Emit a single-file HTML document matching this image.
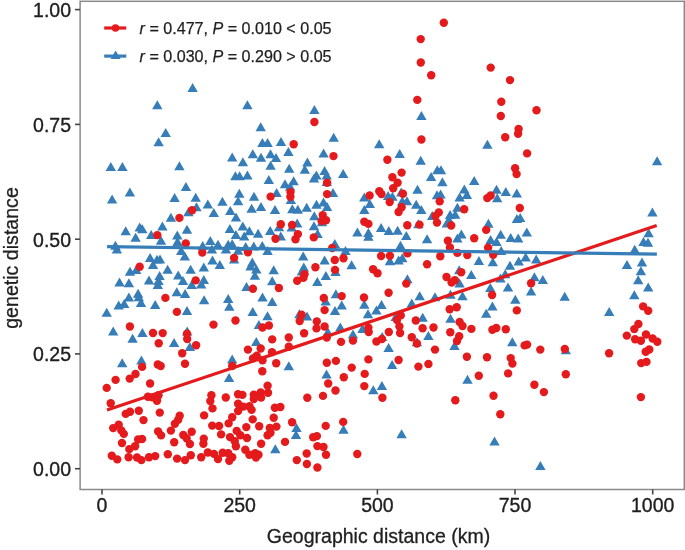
<!DOCTYPE html>
<html><head><meta charset="utf-8"><style>
html,body{margin:0;padding:0;background:#fff;}
svg{display:block;font-family:"Liberation Sans",sans-serif;will-change:transform;}
</style></head><body>
<svg width="685" height="550" viewBox="0 0 685 550">
<rect width="685" height="550" fill="#fff"/>
<path d="M192.6,83.1L197.8,92.1L187.4,92.1ZM157.3,100.3L162.5,109.3L152.1,109.3ZM165.7,128.0L170.9,137.0L160.5,137.0ZM158.6,137.2L163.8,146.2L153.4,146.2ZM110.8,162.0L116.0,171.0L105.6,171.0ZM122.4,162.0L127.6,171.0L117.2,171.0ZM179.4,161.3L184.6,170.3L174.2,170.3ZM247.4,100.3L252.6,109.3L242.2,109.3ZM260.7,122.2L265.9,131.2L255.5,131.2ZM262.4,137.9L267.6,146.9L257.2,146.9ZM267.6,137.9L272.8,146.9L262.4,146.9ZM281.0,137.0L286.2,146.0L275.8,146.0ZM288.4,147.0L293.6,156.0L283.2,156.0ZM232.2,152.5L237.4,161.5L227.0,161.5ZM242.9,157.2L248.1,166.2L237.7,166.2ZM252.8,149.2L258.0,158.2L247.6,158.2ZM261.0,152.8L266.2,161.8L255.8,161.8ZM270.5,149.2L275.7,158.2L265.3,158.2ZM276.0,153.1L281.2,162.1L270.8,162.1ZM270.6,160.8L275.8,169.8L265.4,169.8ZM289.2,163.8L294.4,172.8L284.0,172.8ZM314.4,104.9L319.6,113.9L309.2,113.9ZM333.7,132.7L338.9,141.7L328.5,141.7ZM379.2,139.2L384.4,148.2L374.0,148.2ZM323.6,148.4L328.8,157.4L318.4,157.4ZM307.4,157.5L312.6,166.5L302.2,166.5ZM304.8,164.8L310.0,173.8L299.6,173.8ZM343.2,169.0L348.4,178.0L338.0,178.0ZM421.4,110.9L426.6,119.9L416.2,119.9ZM487.4,139.7L492.6,148.7L482.2,148.7ZM399.7,148.9L404.9,157.9L394.5,157.9ZM420.7,155.7L425.9,164.7L415.5,164.7ZM437.3,165.2L442.5,174.2L432.1,174.2ZM441.0,165.2L446.2,174.2L435.8,174.2ZM657.1,156.2L662.3,165.2L651.9,165.2ZM112.1,194.6L117.3,203.6L106.9,203.6ZM129.9,187.6L135.1,196.6L124.7,196.6ZM185.9,182.0L191.1,191.0L180.7,191.0ZM174.6,193.1L179.8,202.1L169.4,202.1ZM188.4,207.3L193.6,216.3L183.2,216.3ZM170.9,212.8L176.1,221.8L165.7,221.8ZM139.7,222.6L144.9,231.6L134.5,231.6ZM142.3,224.3L147.5,233.3L137.1,233.3ZM125.7,226.2L130.9,235.2L120.5,235.2ZM135.6,232.8L140.8,241.8L130.4,241.8ZM162.4,221.4L167.6,230.4L157.2,230.4ZM151.2,229.9L156.4,238.9L146.0,238.9ZM161.0,235.7L166.2,244.7L155.8,244.7ZM187.0,224.8L192.2,233.8L181.8,233.8ZM115.4,240.8L120.6,249.8L110.2,249.8ZM116.9,244.5L122.1,253.5L111.7,253.5ZM207.8,199.6L213.0,208.6L202.6,208.6ZM222.4,196.7L227.6,205.7L217.2,205.7ZM239.3,188.7L244.5,197.7L234.1,197.7ZM238.1,196.3L243.3,205.3L232.9,205.3ZM213.8,208.0L219.0,217.0L208.6,217.0ZM230.3,206.0L235.5,215.0L225.1,215.0ZM195.7,192.7L200.9,201.7L190.5,201.7ZM196.5,202.2L201.7,211.2L191.3,211.2ZM177.3,230.6L182.5,239.6L172.1,239.6ZM177.5,237.1L182.7,246.1L172.3,246.1ZM181.2,245.9L186.4,254.9L176.0,254.9ZM235.4,171.2L240.6,180.2L230.2,180.2ZM239.6,171.2L244.8,180.2L234.4,180.2ZM247.4,170.5L252.6,179.5L242.2,179.5ZM268.8,175.0L274.0,184.0L263.6,184.0ZM254.0,191.8L259.2,200.8L248.8,200.8ZM285.0,179.2L290.2,188.2L279.8,188.2ZM293.6,176.2L298.8,185.2L288.4,185.2ZM290.1,181.7L295.3,190.7L284.9,190.7ZM276.6,187.9L281.8,196.9L271.4,196.9ZM290.9,194.9L296.1,203.9L285.7,203.9ZM275.0,205.1L280.2,214.1L269.8,214.1ZM292.3,204.3L297.5,213.3L287.1,213.3ZM297.8,204.7L303.0,213.7L292.6,213.7ZM236.0,212.5L241.2,221.5L230.8,221.5ZM229.9,224.1L235.1,233.1L224.7,233.1ZM242.8,221.5L248.0,230.5L237.6,230.5ZM235.9,229.9L241.1,238.9L230.7,238.9ZM244.2,231.4L249.4,240.4L239.0,240.4ZM210.3,236.1L215.5,245.1L205.1,245.1ZM202.7,241.0L207.9,250.0L197.5,250.0ZM218.0,239.8L223.2,248.8L212.8,248.8ZM228.2,239.8L233.4,248.8L223.0,248.8ZM232.2,239.3L237.4,248.3L227.0,248.3ZM211.9,244.5L217.1,253.5L206.7,253.5ZM226.0,244.5L231.2,253.5L220.8,253.5ZM238.1,245.7L243.3,254.7L232.9,254.7ZM234.1,254.5L239.3,263.5L228.9,263.5ZM212.5,255.4L217.7,264.4L207.3,264.4ZM219.8,260.0L225.0,269.0L214.6,269.0ZM203.8,262.5L209.0,271.5L198.6,271.5ZM249.4,226.3L254.6,235.3L244.2,235.3ZM258.1,228.8L263.3,237.8L252.9,237.8ZM270.2,225.9L275.4,234.9L265.0,234.9ZM279.0,222.3L284.2,231.3L273.8,231.3ZM291.7,222.6L296.9,231.6L286.5,231.6ZM280.8,231.4L286.0,240.4L275.6,240.4ZM253.8,241.6L259.0,250.6L248.6,250.6ZM262.3,240.9L267.5,249.9L257.1,249.9ZM267.6,246.0L272.8,255.0L262.4,255.0ZM252.3,257.5L257.5,266.5L247.1,266.5ZM250.5,261.6L255.7,270.6L245.3,270.6ZM256.3,264.5L261.5,273.5L251.1,273.5ZM254.9,270.7L260.1,279.7L249.7,279.7ZM273.7,265.2L278.9,274.2L268.5,274.2ZM272.2,276.2L277.4,285.2L267.0,285.2ZM246.5,282.0L251.7,291.0L241.3,291.0ZM316.4,170.5L321.6,179.5L311.2,179.5ZM314.0,173.5L319.2,182.5L308.8,182.5ZM326.8,177.0L332.0,186.0L321.6,186.0ZM333.0,188.1L338.2,197.1L327.8,197.1ZM323.5,197.6L328.7,206.6L318.3,206.6ZM327.1,202.0L332.3,211.0L321.9,211.0ZM316.5,199.8L321.7,208.8L311.3,208.8ZM306.7,202.7L311.9,211.7L301.5,211.7ZM324.6,166.1L329.8,175.1L319.4,175.1ZM326.7,170.6L331.9,179.6L321.5,179.6ZM364.3,192.5L369.5,201.5L359.1,201.5ZM369.8,199.1L375.0,208.1L364.6,208.1ZM364.3,204.9L369.5,213.9L359.1,213.9ZM388.1,191.0L393.3,200.0L382.9,200.0ZM392.4,191.8L397.6,200.8L387.2,200.8ZM314.3,211.3L319.5,220.3L309.1,220.3ZM322.0,217.2L327.2,226.2L316.8,226.2ZM297.2,218.6L302.4,227.6L292.0,227.6ZM314.0,221.2L319.2,230.2L308.8,230.2ZM317.6,228.9L322.8,237.9L312.4,237.9ZM334.8,239.1L340.0,248.1L329.6,248.1ZM357.4,227.4L362.6,236.4L352.2,236.4ZM368.4,228.1L373.6,237.1L363.2,237.1ZM368.4,231.8L373.6,240.8L363.2,240.8ZM381.1,223.0L386.3,232.0L375.9,232.0ZM388.8,225.9L394.0,234.9L383.6,234.9ZM303.2,251.5L308.4,260.5L298.0,260.5ZM303.8,262.5L309.0,271.5L298.6,271.5ZM301.9,266.5L307.1,275.5L296.7,275.5ZM324.6,255.5L329.8,264.5L319.4,264.5ZM335.5,267.0L340.7,276.0L330.3,276.0ZM325.9,270.9L331.1,279.9L320.7,279.9ZM317.3,277.1L322.5,286.1L312.1,286.1ZM345.5,246.0L350.7,255.0L340.3,255.0ZM351.6,260.3L356.8,269.3L346.4,269.3ZM389.9,256.3L395.1,265.3L384.7,265.3ZM251.6,203.7L256.8,212.7L246.4,212.7ZM261.0,202.1L266.2,211.1L255.8,211.1ZM245.7,241.9L250.9,250.9L240.5,250.9ZM130.0,266.8L135.2,275.8L124.8,275.8ZM136.2,265.0L141.4,274.0L131.0,274.0ZM119.5,277.4L124.7,286.4L114.3,286.4ZM128.9,278.2L134.1,287.2L123.7,287.2ZM150.1,253.0L155.3,262.0L144.9,262.0ZM157.0,254.8L162.2,263.8L151.8,263.8ZM160.0,254.4L165.2,263.4L154.8,263.4ZM153.0,259.9L158.2,268.9L147.8,268.9ZM184.8,251.5L190.0,260.5L179.6,260.5ZM167.6,264.7L172.8,273.7L162.4,273.7ZM190.6,264.7L195.8,273.7L185.4,273.7ZM178.2,270.5L183.4,279.5L173.0,279.5ZM183.0,276.0L188.2,285.0L177.8,285.0ZM191.7,280.0L196.9,289.0L186.5,289.0ZM149.0,275.6L154.2,284.6L143.8,284.6ZM159.6,270.9L164.8,279.9L154.4,279.9ZM157.8,280.0L163.0,289.0L152.6,289.0ZM106.7,307.8L111.9,316.8L101.5,316.8ZM118.7,300.5L123.9,309.5L113.5,309.5ZM124.2,299.0L129.4,308.0L119.0,308.0ZM128.9,292.4L134.1,301.4L123.7,301.4ZM138.1,288.8L143.3,297.8L132.9,297.8ZM141.0,297.9L146.2,306.9L135.8,306.9ZM176.8,287.3L182.0,296.3L171.6,296.3ZM185.1,289.1L190.3,298.1L179.9,298.1ZM155.2,300.1L160.4,309.1L150.0,309.1ZM187.0,305.9L192.2,314.9L181.8,314.9ZM203.8,275.1L209.0,284.1L198.6,284.1ZM201.2,279.5L206.4,288.5L196.0,288.5ZM204.1,295.2L209.3,304.2L198.9,304.2ZM228.2,294.1L233.4,303.1L223.0,303.1ZM229.3,301.8L234.5,310.8L224.1,310.8ZM262.5,292.6L267.7,301.6L257.3,301.6ZM272.2,297.0L277.4,306.0L267.0,306.0ZM252.7,306.9L257.9,315.9L247.5,315.9ZM267.5,311.2L272.7,320.2L262.3,320.2ZM258.9,319.9L264.1,328.9L253.7,328.9ZM256.3,337.0L261.5,346.0L251.1,346.0ZM335.9,289.2L341.1,298.2L330.7,298.2ZM341.7,300.5L346.9,309.5L336.5,309.5ZM325.7,296.5L330.9,305.5L320.5,305.5ZM335.0,306.0L340.2,315.0L329.8,315.0ZM299.4,309.2L304.6,318.2L294.2,318.2ZM307.0,311.5L312.2,320.5L301.8,320.5ZM364.3,299.7L369.5,308.7L359.1,308.7ZM381.5,300.1L386.7,309.1L376.3,309.1ZM376.4,305.6L381.6,314.6L371.2,314.6ZM368.0,309.2L373.2,318.2L362.8,318.2ZM327.8,327.2L333.0,336.2L322.6,336.2ZM340.3,322.5L345.5,331.5L335.1,331.5ZM353.0,329.4L358.2,338.4L347.8,338.4ZM362.5,324.0L367.7,333.0L357.3,333.0ZM382.2,331.9L387.4,340.9L377.0,340.9ZM388.6,342.9L393.8,351.9L383.4,351.9ZM113.2,326.5L118.4,335.5L108.0,335.5ZM132.6,333.7L137.8,342.7L127.4,342.7ZM142.4,327.9L147.6,336.9L137.2,336.9ZM122.2,358.2L127.4,367.2L117.0,367.2ZM141.4,355.6L146.6,364.6L136.2,364.6ZM174.1,338.1L179.3,347.1L168.9,347.1ZM187.2,326.5L192.4,335.5L182.0,335.5ZM189.9,342.1L195.1,351.1L184.7,351.1ZM232.2,354.6L237.4,363.6L227.0,363.6ZM229.1,372.9L234.3,381.9L223.9,381.9ZM288.8,361.2L294.0,370.2L283.6,370.2ZM275.3,444.3L280.5,453.3L270.1,453.3ZM326.5,369.5L331.7,378.5L321.3,378.5ZM343.5,424.7L348.7,433.7L338.3,433.7ZM296.5,423.0L301.7,432.0L291.3,432.0ZM296.0,430.0L301.2,439.0L290.8,439.0ZM373.3,385.2L378.5,394.2L368.1,394.2ZM381.9,380.9L387.1,389.9L376.7,389.9ZM392.1,360.1L397.3,369.1L386.9,369.1ZM401.2,187.4L406.4,196.4L396.0,196.4ZM402.3,196.2L407.5,205.2L397.1,205.2ZM407.0,196.2L412.2,205.2L401.8,205.2ZM417.5,184.8L422.7,193.8L412.3,193.8ZM416.2,199.8L421.4,208.8L411.0,208.8ZM421.3,204.9L426.5,213.9L416.1,213.9ZM431.1,172.1L436.3,181.1L425.9,181.1ZM442.4,177.2L447.6,186.2L437.2,186.2ZM437.0,190.3L442.2,199.3L431.8,199.3ZM440.6,189.6L445.8,198.6L435.4,198.6ZM474.2,176.1L479.4,185.1L469.0,185.1ZM464.3,184.5L469.5,193.5L459.1,193.5ZM459.6,192.5L464.8,201.5L454.4,201.5ZM466.9,190.0L472.1,199.0L461.7,199.0ZM457.4,202.7L462.6,211.7L452.2,211.7ZM418.4,219.2L423.6,228.2L413.2,228.2ZM432.2,211.1L437.4,220.1L427.0,220.1ZM397.6,225.8L402.8,234.8L392.4,234.8ZM406.3,230.9L411.5,239.9L401.1,239.9ZM427.1,234.2L432.3,243.2L421.9,243.2ZM400.5,240.7L405.7,249.7L395.3,249.7ZM450.1,210.1L455.3,219.1L444.9,219.1ZM455.2,209.7L460.4,218.7L450.0,218.7ZM446.8,218.5L452.0,227.5L441.6,227.5ZM488.4,218.8L493.6,227.8L483.2,227.8ZM461.4,229.4L466.6,238.4L456.2,238.4ZM457.4,233.5L462.6,242.5L452.2,242.5ZM490.6,234.9L495.8,243.9L485.4,243.9ZM398.6,255.4L403.8,264.4L393.4,264.4ZM402.3,253.2L407.5,262.2L397.1,262.2ZM407.4,274.3L412.6,283.3L402.2,283.3ZM478.9,256.1L484.1,265.1L473.7,265.1ZM492.8,257.2L498.0,266.2L487.6,266.2ZM459.2,265.2L464.4,274.2L454.0,274.2ZM471.3,270.0L476.5,279.0L466.1,279.0ZM419.7,291.2L424.9,300.2L414.5,300.2ZM411.8,298.5L417.0,307.5L406.6,307.5ZM435.0,292.3L440.2,301.3L429.8,301.3ZM395.7,312.0L400.9,321.0L390.5,321.0ZM422.7,312.7L427.9,321.7L417.5,321.7ZM459.6,278.5L464.8,287.5L454.4,287.5ZM450.5,289.7L455.7,298.7L445.3,298.7ZM462.5,291.2L467.7,300.2L457.3,300.2ZM490.3,283.1L495.5,292.1L485.1,292.1ZM492.4,301.4L497.6,310.4L487.2,310.4ZM486.2,308.7L491.4,317.7L481.0,317.7ZM450.5,313.8L455.7,322.8L445.3,322.8ZM428.4,331.0L433.6,340.0L423.2,340.0ZM416.9,337.2L422.1,346.2L411.7,346.2ZM454.5,340.9L459.7,349.9L449.3,349.9ZM401.6,429.3L406.8,438.3L396.4,438.3ZM467.5,374.8L472.7,383.8L462.3,383.8ZM496.5,184.8L501.7,193.8L491.3,193.8ZM497.2,193.2L502.4,202.2L492.0,202.2ZM505.8,187.0L511.0,196.0L500.6,196.0ZM516.8,188.5L522.0,197.5L511.6,197.5ZM516.9,214.1L522.1,223.1L511.7,223.1ZM520.2,213.0L525.4,222.0L515.0,222.0ZM500.7,229.8L505.9,238.8L495.5,238.8ZM510.7,233.1L515.9,242.1L505.5,242.1ZM518.2,233.4L523.4,242.4L513.0,242.4ZM526.8,227.6L532.0,236.6L521.6,236.6ZM496.5,237.1L501.7,246.1L491.3,246.1ZM501.2,245.9L506.4,254.9L496.0,254.9ZM510.0,260.8L515.2,269.8L504.8,269.8ZM518.7,256.5L523.9,265.5L513.5,265.5ZM525.7,252.5L530.9,261.5L520.5,261.5ZM536.2,254.6L541.4,263.6L531.0,263.6ZM505.2,269.2L510.4,278.2L500.0,278.2ZM500.5,273.6L505.7,282.6L495.3,282.6ZM534.4,272.2L539.6,281.2L529.2,281.2ZM542.8,275.1L548.0,284.1L537.6,284.1ZM508.0,282.4L513.2,291.4L502.8,291.4ZM531.1,286.4L536.3,295.4L525.9,295.4ZM515.3,294.8L520.5,303.8L510.1,303.8ZM512.3,337.2L517.5,346.2L507.1,346.2ZM565.8,345.2L571.0,354.2L560.6,354.2ZM564.7,291.8L569.9,300.8L559.5,300.8ZM609.2,307.1L614.4,316.1L604.0,316.1ZM652.4,207.4L657.6,216.4L647.2,216.4ZM648.6,228.2L653.8,237.2L643.4,237.2ZM643.5,237.0L648.7,246.0L638.3,246.0ZM648.0,237.7L653.2,246.7L642.8,246.7ZM634.7,244.8L639.9,253.8L629.5,253.8ZM627.0,260.0L632.2,269.0L621.8,269.0ZM642.0,257.4L647.2,266.4L636.8,266.4ZM640.9,266.2L646.1,275.2L635.7,275.2ZM638.2,275.2L643.4,284.2L633.0,284.2ZM648.2,282.5L653.4,291.5L643.0,291.5ZM634.3,290.2L639.5,299.2L629.1,299.2ZM494.5,436.5L499.7,445.5L489.3,445.5ZM540.4,460.9L545.6,469.9L535.2,469.9ZM449.0,215.0L454.2,224.0L443.8,224.0ZM138.8,292.2L144.0,301.2L133.6,301.2ZM158.5,276.0L163.7,285.0L153.3,285.0Z" fill="#377EB8"/>
<g fill="#E41A1C"><circle cx="443.8" cy="22.8" r="4.2"/><circle cx="420.7" cy="39.1" r="4.2"/><circle cx="420.8" cy="62.5" r="4.2"/><circle cx="431.2" cy="75.3" r="4.2"/><circle cx="490.7" cy="67.6" r="4.2"/><circle cx="510.0" cy="80.1" r="4.2"/><circle cx="293.7" cy="144.2" r="4.2"/><circle cx="314.4" cy="122.0" r="4.2"/><circle cx="333.5" cy="156.1" r="4.2"/><circle cx="387.4" cy="159.8" r="4.2"/><circle cx="417.3" cy="99.9" r="4.2"/><circle cx="421.4" cy="139.5" r="4.2"/><circle cx="401.6" cy="172.6" r="4.2"/><circle cx="501.3" cy="101.8" r="4.2"/><circle cx="536.5" cy="110.3" r="4.2"/><circle cx="500.8" cy="116.0" r="4.2"/><circle cx="518.6" cy="129.0" r="4.2"/><circle cx="518.1" cy="133.7" r="4.2"/><circle cx="505.2" cy="137.3" r="4.2"/><circle cx="527.1" cy="153.4" r="4.2"/><circle cx="515.1" cy="168.3" r="4.2"/><circle cx="516.6" cy="174.1" r="4.2"/><circle cx="192.1" cy="210.3" r="4.2"/><circle cx="179.4" cy="217.9" r="4.2"/><circle cx="157.3" cy="235.1" r="4.2"/><circle cx="185.8" cy="243.4" r="4.2"/><circle cx="270.6" cy="196.6" r="4.2"/><circle cx="290.5" cy="192.1" r="4.2"/><circle cx="290.4" cy="196.8" r="4.2"/><circle cx="202.3" cy="252.5" r="4.2"/><circle cx="234.1" cy="257.9" r="4.2"/><circle cx="280.8" cy="224.2" r="4.2"/><circle cx="292.1" cy="225.0" r="4.2"/><circle cx="275.5" cy="238.7" r="4.2"/><circle cx="295.5" cy="239.3" r="4.2"/><circle cx="247.9" cy="252.3" r="4.2"/><circle cx="278.9" cy="288.0" r="4.2"/><circle cx="252.9" cy="288.7" r="4.2"/><circle cx="327.1" cy="182.8" r="4.2"/><circle cx="327.1" cy="194.1" r="4.2"/><circle cx="392.4" cy="177.3" r="4.2"/><circle cx="393.2" cy="188.2" r="4.2"/><circle cx="379.3" cy="191.2" r="4.2"/><circle cx="381.5" cy="194.1" r="4.2"/><circle cx="369.6" cy="195.5" r="4.2"/><circle cx="389.7" cy="202.1" r="4.2"/><circle cx="322.7" cy="215.1" r="4.2"/><circle cx="326.0" cy="220.2" r="4.2"/><circle cx="321.6" cy="221.0" r="4.2"/><circle cx="313.8" cy="237.4" r="4.2"/><circle cx="297.9" cy="234.1" r="4.2"/><circle cx="332.2" cy="248.0" r="4.2"/><circle cx="364.3" cy="221.7" r="4.2"/><circle cx="368.4" cy="223.9" r="4.2"/><circle cx="304.5" cy="274.3" r="4.2"/><circle cx="303.4" cy="277.9" r="4.2"/><circle cx="297.2" cy="280.8" r="4.2"/><circle cx="315.4" cy="267.3" r="4.2"/><circle cx="334.8" cy="260.0" r="4.2"/><circle cx="343.5" cy="258.2" r="4.2"/><circle cx="335.0" cy="269.9" r="4.2"/><circle cx="381.1" cy="256.0" r="4.2"/><circle cx="389.9" cy="255.7" r="4.2"/><circle cx="373.1" cy="269.2" r="4.2"/><circle cx="377.5" cy="273.2" r="4.2"/><circle cx="139.7" cy="266.8" r="4.2"/><circle cx="129.9" cy="326.5" r="4.2"/><circle cx="165.4" cy="297.9" r="4.2"/><circle cx="176.9" cy="311.9" r="4.2"/><circle cx="195.7" cy="280.4" r="4.2"/><circle cx="213.5" cy="324.6" r="4.2"/><circle cx="235.5" cy="320.5" r="4.2"/><circle cx="196.1" cy="345.2" r="4.2"/><circle cx="262.4" cy="327.5" r="4.2"/><circle cx="268.9" cy="325.5" r="4.2"/><circle cx="272.2" cy="339.4" r="4.2"/><circle cx="288.8" cy="337.5" r="4.2"/><circle cx="247.9" cy="349.6" r="4.2"/><circle cx="260.7" cy="348.5" r="4.2"/><circle cx="272.0" cy="352.1" r="4.2"/><circle cx="288.8" cy="346.7" r="4.2"/><circle cx="341.7" cy="296.1" r="4.2"/><circle cx="323.8" cy="298.0" r="4.2"/><circle cx="324.6" cy="310.1" r="4.2"/><circle cx="301.6" cy="314.8" r="4.2"/><circle cx="299.7" cy="321.0" r="4.2"/><circle cx="316.8" cy="321.4" r="4.2"/><circle cx="324.6" cy="326.5" r="4.2"/><circle cx="364.0" cy="297.5" r="4.2"/><circle cx="388.6" cy="292.7" r="4.2"/><circle cx="316.5" cy="328.4" r="4.2"/><circle cx="304.1" cy="333.3" r="4.2"/><circle cx="326.8" cy="337.5" r="4.2"/><circle cx="341.0" cy="341.9" r="4.2"/><circle cx="326.8" cy="362.7" r="4.2"/><circle cx="335.9" cy="360.9" r="4.2"/><circle cx="353.0" cy="340.6" r="4.2"/><circle cx="368.4" cy="327.6" r="4.2"/><circle cx="368.7" cy="332.0" r="4.2"/><circle cx="388.8" cy="332.0" r="4.2"/><circle cx="376.4" cy="341.5" r="4.2"/><circle cx="381.9" cy="339.0" r="4.2"/><circle cx="368.4" cy="359.4" r="4.2"/><circle cx="142.1" cy="366.9" r="4.2"/><circle cx="153.0" cy="333.0" r="4.2"/><circle cx="162.7" cy="333.1" r="4.2"/><circle cx="158.7" cy="343.2" r="4.2"/><circle cx="187.0" cy="333.8" r="4.2"/><circle cx="187.2" cy="339.0" r="4.2"/><circle cx="182.2" cy="353.2" r="4.2"/><circle cx="185.0" cy="363.8" r="4.2"/><circle cx="157.8" cy="364.5" r="4.2"/><circle cx="160.7" cy="366.0" r="4.2"/><circle cx="106.7" cy="387.9" r="4.2"/><circle cx="115.6" cy="379.9" r="4.2"/><circle cx="129.7" cy="378.6" r="4.2"/><circle cx="135.5" cy="374.0" r="4.2"/><circle cx="110.7" cy="403.2" r="4.2"/><circle cx="150.1" cy="383.5" r="4.2"/><circle cx="147.9" cy="396.7" r="4.2"/><circle cx="152.3" cy="397.4" r="4.2"/><circle cx="158.5" cy="395.2" r="4.2"/><circle cx="157.0" cy="400.7" r="4.2"/><circle cx="125.7" cy="413.9" r="4.2"/><circle cx="130.0" cy="411.7" r="4.2"/><circle cx="138.8" cy="410.7" r="4.2"/><circle cx="143.5" cy="420.1" r="4.2"/><circle cx="113.2" cy="428.1" r="4.2"/><circle cx="118.7" cy="424.8" r="4.2"/><circle cx="123.8" cy="433.9" r="4.2"/><circle cx="122.0" cy="443.0" r="4.2"/><circle cx="138.1" cy="439.5" r="4.2"/><circle cx="142.1" cy="439.0" r="4.2"/><circle cx="111.8" cy="455.7" r="4.2"/><circle cx="117.3" cy="459.4" r="4.2"/><circle cx="129.3" cy="449.1" r="4.2"/><circle cx="135.1" cy="446.2" r="4.2"/><circle cx="128.6" cy="457.2" r="4.2"/><circle cx="137.0" cy="457.5" r="4.2"/><circle cx="141.4" cy="460.1" r="4.2"/><circle cx="159.8" cy="412.6" r="4.2"/><circle cx="179.7" cy="415.7" r="4.2"/><circle cx="178.2" cy="419.7" r="4.2"/><circle cx="174.9" cy="423.7" r="4.2"/><circle cx="170.9" cy="430.6" r="4.2"/><circle cx="158.1" cy="431.4" r="4.2"/><circle cx="161.1" cy="435.4" r="4.2"/><circle cx="183.3" cy="435.0" r="4.2"/><circle cx="191.7" cy="431.7" r="4.2"/><circle cx="186.6" cy="438.3" r="4.2"/><circle cx="189.9" cy="444.0" r="4.2"/><circle cx="174.2" cy="442.3" r="4.2"/><circle cx="149.0" cy="457.2" r="4.2"/><circle cx="155.2" cy="456.1" r="4.2"/><circle cx="167.8" cy="454.2" r="4.2"/><circle cx="177.1" cy="458.6" r="4.2"/><circle cx="185.0" cy="460.1" r="4.2"/><circle cx="190.8" cy="455.3" r="4.2"/><circle cx="232.2" cy="366.0" r="4.2"/><circle cx="211.4" cy="395.3" r="4.2"/><circle cx="210.3" cy="401.1" r="4.2"/><circle cx="212.5" cy="408.4" r="4.2"/><circle cx="225.8" cy="397.5" r="4.2"/><circle cx="238.1" cy="394.2" r="4.2"/><circle cx="242.4" cy="394.9" r="4.2"/><circle cx="238.1" cy="403.7" r="4.2"/><circle cx="243.2" cy="406.6" r="4.2"/><circle cx="238.1" cy="411.0" r="4.2"/><circle cx="204.1" cy="415.4" r="4.2"/><circle cx="232.2" cy="417.2" r="4.2"/><circle cx="228.6" cy="423.4" r="4.2"/><circle cx="212.2" cy="425.6" r="4.2"/><circle cx="219.1" cy="426.0" r="4.2"/><circle cx="236.7" cy="430.9" r="4.2"/><circle cx="246.3" cy="427.1" r="4.2"/><circle cx="221.1" cy="434.4" r="4.2"/><circle cx="203.8" cy="438.6" r="4.2"/><circle cx="203.4" cy="443.7" r="4.2"/><circle cx="230.0" cy="437.1" r="4.2"/><circle cx="240.3" cy="435.3" r="4.2"/><circle cx="234.8" cy="441.3" r="4.2"/><circle cx="235.9" cy="446.2" r="4.2"/><circle cx="201.2" cy="457.2" r="4.2"/><circle cx="207.8" cy="452.5" r="4.2"/><circle cx="214.0" cy="453.9" r="4.2"/><circle cx="218.0" cy="459.0" r="4.2"/><circle cx="222.7" cy="452.8" r="4.2"/><circle cx="228.2" cy="453.2" r="4.2"/><circle cx="232.2" cy="457.2" r="4.2"/><circle cx="229.3" cy="460.8" r="4.2"/><circle cx="253.0" cy="358.4" r="4.2"/><circle cx="256.7" cy="355.8" r="4.2"/><circle cx="262.5" cy="360.2" r="4.2"/><circle cx="276.2" cy="363.3" r="4.2"/><circle cx="262.3" cy="371.3" r="4.2"/><circle cx="267.6" cy="385.8" r="4.2"/><circle cx="253.8" cy="394.6" r="4.2"/><circle cx="253.8" cy="399.0" r="4.2"/><circle cx="260.7" cy="392.4" r="4.2"/><circle cx="261.1" cy="397.5" r="4.2"/><circle cx="268.0" cy="392.7" r="4.2"/><circle cx="249.4" cy="406.2" r="4.2"/><circle cx="251.6" cy="409.9" r="4.2"/><circle cx="274.9" cy="407.7" r="4.2"/><circle cx="280.4" cy="407.0" r="4.2"/><circle cx="273.7" cy="417.8" r="4.2"/><circle cx="252.7" cy="419.4" r="4.2"/><circle cx="292.1" cy="422.3" r="4.2"/><circle cx="259.2" cy="426.2" r="4.2"/><circle cx="269.8" cy="428.0" r="4.2"/><circle cx="276.4" cy="426.6" r="4.2"/><circle cx="270.5" cy="432.8" r="4.2"/><circle cx="267.6" cy="435.3" r="4.2"/><circle cx="247.0" cy="438.0" r="4.2"/><circle cx="261.1" cy="443.7" r="4.2"/><circle cx="285.0" cy="441.9" r="4.2"/><circle cx="245.3" cy="449.7" r="4.2"/><circle cx="249.4" cy="454.7" r="4.2"/><circle cx="255.2" cy="453.2" r="4.2"/><circle cx="258.5" cy="454.7" r="4.2"/><circle cx="256.0" cy="457.6" r="4.2"/><circle cx="343.8" cy="377.3" r="4.2"/><circle cx="328.2" cy="383.5" r="4.2"/><circle cx="335.5" cy="390.5" r="4.2"/><circle cx="323.0" cy="395.9" r="4.2"/><circle cx="307.3" cy="397.8" r="4.2"/><circle cx="325.7" cy="425.9" r="4.2"/><circle cx="343.2" cy="421.9" r="4.2"/><circle cx="313.2" cy="437.2" r="4.2"/><circle cx="316.9" cy="436.1" r="4.2"/><circle cx="317.4" cy="446.1" r="4.2"/><circle cx="323.5" cy="447.0" r="4.2"/><circle cx="326.0" cy="454.8" r="4.2"/><circle cx="306.7" cy="453.5" r="4.2"/><circle cx="296.8" cy="460.1" r="4.2"/><circle cx="306.9" cy="464.0" r="4.2"/><circle cx="317.4" cy="467.5" r="4.2"/><circle cx="351.7" cy="367.6" r="4.2"/><circle cx="364.7" cy="373.9" r="4.2"/><circle cx="364.3" cy="386.1" r="4.2"/><circle cx="382.4" cy="397.8" r="4.2"/><circle cx="357.3" cy="454.0" r="4.2"/><circle cx="397.6" cy="182.8" r="4.2"/><circle cx="402.9" cy="193.7" r="4.2"/><circle cx="401.6" cy="207.2" r="4.2"/><circle cx="439.7" cy="201.4" r="4.2"/><circle cx="464.2" cy="209.2" r="4.2"/><circle cx="487.3" cy="198.1" r="4.2"/><circle cx="490.6" cy="195.5" r="4.2"/><circle cx="398.6" cy="212.0" r="4.2"/><circle cx="407.3" cy="225.2" r="4.2"/><circle cx="419.5" cy="224.6" r="4.2"/><circle cx="438.8" cy="212.4" r="4.2"/><circle cx="435.5" cy="216.0" r="4.2"/><circle cx="437.0" cy="222.6" r="4.2"/><circle cx="451.2" cy="225.5" r="4.2"/><circle cx="486.2" cy="229.9" r="4.2"/><circle cx="474.2" cy="238.3" r="4.2"/><circle cx="447.9" cy="240.8" r="4.2"/><circle cx="449.9" cy="247.5" r="4.2"/><circle cx="407.4" cy="253.3" r="4.2"/><circle cx="427.1" cy="264.2" r="4.2"/><circle cx="440.3" cy="256.2" r="4.2"/><circle cx="406.3" cy="283.6" r="4.2"/><circle cx="457.4" cy="252.9" r="4.2"/><circle cx="467.3" cy="255.1" r="4.2"/><circle cx="488.1" cy="247.8" r="4.2"/><circle cx="493.2" cy="254.8" r="4.2"/><circle cx="461.2" cy="272.3" r="4.2"/><circle cx="446.5" cy="277.0" r="4.2"/><circle cx="451.6" cy="282.5" r="4.2"/><circle cx="454.9" cy="280.3" r="4.2"/><circle cx="400.8" cy="315.4" r="4.2"/><circle cx="397.0" cy="320.0" r="4.2"/><circle cx="415.8" cy="320.5" r="4.2"/><circle cx="492.1" cy="295.0" r="4.2"/><circle cx="449.7" cy="309.2" r="4.2"/><circle cx="456.7" cy="307.2" r="4.2"/><circle cx="459.6" cy="322.0" r="4.2"/><circle cx="399.4" cy="326.4" r="4.2"/><circle cx="400.1" cy="333.0" r="4.2"/><circle cx="422.6" cy="328.2" r="4.2"/><circle cx="433.5" cy="327.5" r="4.2"/><circle cx="411.8" cy="337.3" r="4.2"/><circle cx="416.9" cy="343.5" r="4.2"/><circle cx="435.0" cy="349.6" r="4.2"/><circle cx="398.6" cy="360.0" r="4.2"/><circle cx="462.5" cy="326.0" r="4.2"/><circle cx="471.4" cy="328.9" r="4.2"/><circle cx="450.3" cy="332.2" r="4.2"/><circle cx="459.2" cy="336.2" r="4.2"/><circle cx="457.0" cy="341.0" r="4.2"/><circle cx="466.9" cy="356.7" r="4.2"/><circle cx="487.0" cy="357.2" r="4.2"/><circle cx="496.3" cy="328.0" r="4.2"/><circle cx="492.4" cy="329.8" r="4.2"/><circle cx="418.4" cy="366.6" r="4.2"/><circle cx="428.4" cy="364.0" r="4.2"/><circle cx="455.3" cy="400.2" r="4.2"/><circle cx="478.8" cy="375.7" r="4.2"/><circle cx="493.5" cy="395.8" r="4.2"/><circle cx="519.8" cy="208.0" r="4.2"/><circle cx="531.1" cy="283.2" r="4.2"/><circle cx="516.8" cy="310.4" r="4.2"/><circle cx="505.8" cy="329.3" r="4.2"/><circle cx="524.6" cy="345.4" r="4.2"/><circle cx="527.1" cy="344.6" r="4.2"/><circle cx="540.3" cy="349.6" r="4.2"/><circle cx="510.7" cy="358.1" r="4.2"/><circle cx="512.4" cy="363.6" r="4.2"/><circle cx="564.8" cy="349.0" r="4.2"/><circle cx="508.1" cy="373.4" r="4.2"/><circle cx="565.8" cy="374.3" r="4.2"/><circle cx="534.4" cy="384.8" r="4.2"/><circle cx="543.9" cy="392.1" r="4.2"/><circle cx="643.1" cy="306.4" r="4.2"/><circle cx="648.2" cy="310.8" r="4.2"/><circle cx="638.4" cy="324.0" r="4.2"/><circle cx="634.3" cy="329.1" r="4.2"/><circle cx="626.8" cy="335.6" r="4.2"/><circle cx="635.1" cy="339.3" r="4.2"/><circle cx="640.9" cy="340.7" r="4.2"/><circle cx="646.0" cy="334.5" r="4.2"/><circle cx="652.6" cy="338.5" r="4.2"/><circle cx="657.3" cy="341.8" r="4.2"/><circle cx="649.3" cy="349.5" r="4.2"/><circle cx="645.7" cy="351.7" r="4.2"/><circle cx="609.1" cy="353.3" r="4.2"/><circle cx="641.2" cy="363.1" r="4.2"/><circle cx="646.5" cy="361.9" r="4.2"/><circle cx="640.9" cy="397.1" r="4.2"/><circle cx="500.3" cy="414.2" r="4.2"/><circle cx="121.3" cy="430.4" r="4.2"/></g>
<line x1="107.0" y1="410.1" x2="656.7" y2="225.5" stroke="#E41A1C" stroke-width="3.2"/>
<line x1="107.1" y1="246.7" x2="656.9" y2="254.2" stroke="#377EB8" stroke-width="3.2"/>
<rect x="80.1" y="1.3" width="604.2" height="488.2" fill="none" stroke="#8a8a8a" stroke-width="1.5"/>
<g stroke="#444" stroke-width="1.6"><line x1="102.0" y1="489.5" x2="102.0" y2="494.5"/><line x1="239.7" y1="489.5" x2="239.7" y2="494.5"/><line x1="377.4" y1="489.5" x2="377.4" y2="494.5"/><line x1="515.0" y1="489.5" x2="515.0" y2="494.5"/><line x1="652.7" y1="489.5" x2="652.7" y2="494.5"/><line x1="75" y1="468.7" x2="80" y2="468.7"/><line x1="75" y1="353.9" x2="80" y2="353.9"/><line x1="75" y1="239.2" x2="80" y2="239.2"/><line x1="75" y1="124.4" x2="80" y2="124.4"/><line x1="75" y1="9.6" x2="80" y2="9.6"/></g>
<g font-size="19.5" fill="#1f1f1f" stroke="#1f1f1f" stroke-width="0.35"><text x="102.0" y="512.2" text-anchor="middle">0</text><text x="239.7" y="512.2" text-anchor="middle">250</text><text x="377.4" y="512.2" text-anchor="middle">500</text><text x="515.0" y="512.2" text-anchor="middle">750</text><text x="652.7" y="512.2" text-anchor="middle">1000</text><text x="71" y="476.1" text-anchor="end">0.00</text><text x="71" y="361.3" text-anchor="end">0.25</text><text x="71" y="246.6" text-anchor="end">0.50</text><text x="71" y="131.8" text-anchor="end">0.75</text><text x="71" y="17.0" text-anchor="end">1.00</text></g>
<text x="378.5" y="543.4" text-anchor="middle" font-size="19.5" fill="#1f1f1f" stroke="#1f1f1f" stroke-width="0.3">Geographic distance (km)</text>
<text transform="translate(18.3,258) rotate(-90)" text-anchor="middle" font-size="19.6" fill="#1f1f1f" stroke="#1f1f1f" stroke-width="0.3">genetic distance</text>
<g>
<line x1="104.2" y1="28" x2="126.3" y2="28" stroke="#E41A1C" stroke-width="3.2"/>
<circle cx="115.5" cy="28" r="3.8" fill="#E41A1C"/>
<line x1="104.2" y1="56.1" x2="126.3" y2="56.1" stroke="#377EB8" stroke-width="3.2"/>
<path d="M115.6,50.6L120.6,59L110.6,59Z" fill="#377EB8"/>
<text x="139.6" y="33.8" font-size="16.1" fill="#1f1f1f" stroke="#1f1f1f" stroke-width="0.25"><tspan font-style="italic">r</tspan> = 0.477, <tspan font-style="italic">P</tspan> = 0.010 &lt; 0.05</text>
<text x="139.6" y="62.2" font-size="16.1" fill="#1f1f1f" stroke="#1f1f1f" stroke-width="0.25"><tspan font-style="italic">r</tspan> = 0.030, <tspan font-style="italic">P</tspan> = 0.290 &gt; 0.05</text>
</g>
</svg>
</body></html>
